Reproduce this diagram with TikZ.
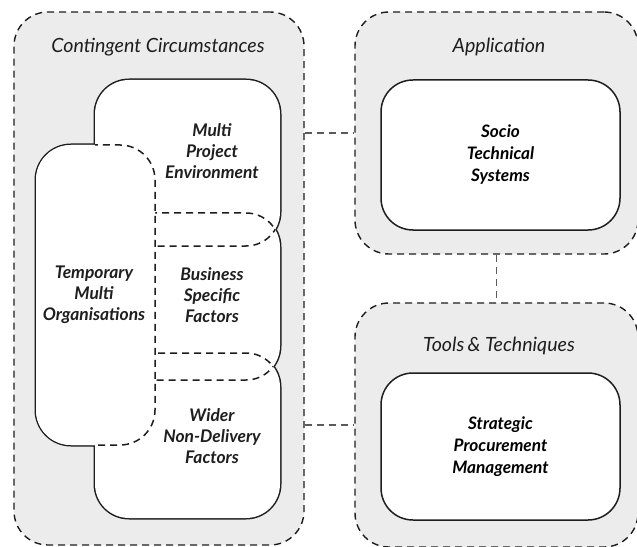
\documentclass[tikz,border=0pt]{standalone}
\usepackage{fontspec}
\setmainfont{Lato}
\definecolor{bggray}{RGB}{236,236,236}
\definecolor{ink}{RGB}{30,30,30}
\definecolor{conngray}{RGB}{90,90,90}
\begin{document}
\begin{tikzpicture}[x=1bp,y=-1bp,
  outerbox/.style={draw=ink, dash pattern=on 7bp off 5bp, line width=1.4bp, fill=bggray, rounded corners=34bp, inner sep=0pt},
  innerbox/.style={draw=ink, line width=1.5bp, fill=white, rounded corners=32bp, inner sep=0pt, align=center, font=\fontsize{17.2bp}{22bp}\selectfont\bfseries\itshape},
  titletext/.style={font=\fontsize{19.6bp}{22bp}\selectfont\itshape, text=ink},
  blobtext/.style={align=center, font=\fontsize{17.4bp}{21bp}\selectfont\bfseries\itshape, text=ink},
  conn/.style={draw=conngray, dash pattern=on 7bp off 5bp, line width=1.4bp},
  solidedge/.style={draw=ink, line width=3bp},
  dashedge/.style={draw=ink, line width=1.5bp, dash pattern=on 7bp off 5bp}
]
\useasboundingbox (0,0) rectangle (637,547);

% outer containers
\node[outerbox, minimum width=290bp, minimum height=533bp] (cc) at (159,278.5) {};
\node[outerbox, minimum width=283bp, minimum height=242bp] (app) at (496.5,133) {};
\node[outerbox, minimum width=283bp, minimum height=244bp] (tools) at (496.5,425) {};

% connectors
\draw[conn] (app.west -| cc.east) -- (app.west);
\draw[conn] (tools.west -| cc.east) -- (tools.west);
\draw[conn] (app.south) -- (tools.north);

% titles
\node[titletext] (cctitle) at (158,47) {Contingent Circumstances};
\node[titletext] (apptitle) at (499,47) {Application};
\node[titletext] (toolstitle) at (499,346) {Tools\,\& Techniques};

% inner boxes on the right
\node[innerbox, minimum width=239bp, minimum height=150bp] (sts) at (500.5,155) {Socio\\Technical\\Systems};
\node[innerbox, minimum width=239bp, minimum height=147bp] (spm) at (500.5,446.5) {Strategic\\Procurement\\Management};

% blob of overlapping rounded shapes
\def\shT{(36,145) rectangle (155,445)}
\def\shM{(95,80) rectangle (280,246)}
\def\shB{(95,213) rectangle (280,380)}
\def\shW{(95,353) rectangle (280,518)}
% solid outer outline (double width, inner half erased by fills)
\draw[solidedge, rounded corners=35bp] \shT;
\draw[solidedge, rounded corners=34bp] \shM;
\draw[solidedge, rounded corners=34bp] \shB;
\draw[solidedge, rounded corners=34bp] \shW;
\fill[white, rounded corners=35bp] \shT;
\fill[white, rounded corners=34bp] \shM;
\fill[white, rounded corners=34bp] \shB;
\fill[white, rounded corners=34bp] \shW;
% dashed inner edges
\begin{scope}
  \clip[rounded corners=34bp] \shB;
  \draw[dashedge, rounded corners=34bp] \shM;
  \draw[dashedge, rounded corners=34bp] \shW;
\end{scope}
\begin{scope}
  \clip[rounded corners=34bp] \shM \shW;
  \draw[dashedge, rounded corners=34bp] \shB;
\end{scope}
\fill[white, rounded corners=35bp] \shT;
\begin{scope}
  \clip[rounded corners=34bp] \shM \shB \shW;
  \draw[dashedge, rounded corners=35bp] \shT;
\end{scope}

% blob labels
\node[blobtext] (mpe) at (212,151) {Multi\\Project\\Environment};
\node[blobtext] (tmo) at (94,295) {Temporary\\Multi\\Organisations};
\node[blobtext] (bsf) at (212,295) {Business\\Specific\\Factors};
\node[blobtext] (wnd) at (212,436) {Wider\\Non-Delivery\\Factors};
\end{tikzpicture}
\end{document}
